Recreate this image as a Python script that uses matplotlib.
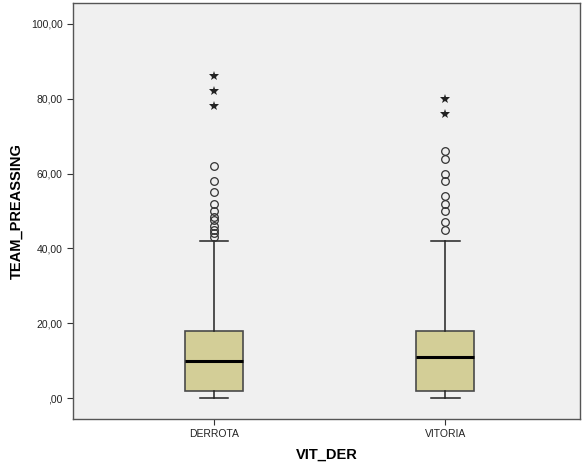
import matplotlib
matplotlib.use("Agg")
import matplotlib.pyplot as plt

plt.rcParams['font.family'] = ['Liberation Sans', 'DejaVu Sans']

categories = ["DERROTA", "VITORIA"]
q1 = [2, 2]
median = [10, 11]
q3 = [18, 18]
whisker_low = [0, 0]
whisker_high = [42, 42]
outliers_circle = [
    [62, 58, 55, 52, 50, 48.5, 47.5, 46, 45, 44, 43],
    [66, 64, 60, 58, 54, 52, 50, 47, 45],
]
outliers_star = [
    [86, 82, 78],
    [80, 76],
]
yticks = [0, 20, 40, 60, 80, 100]
ytick_labels = [",00", "20,00", "40,00", "60,00", "80,00", "100,00"]

fig = plt.figure(figsize=(5.82, 4.70), dpi=100)
ax = fig.add_axes([73/582, 51/470, 507/582, 416/470])
ax.set_facecolor('#f0f0f0')

positions = [1, 2]
stats = []
for i, c in enumerate(categories):
    stats.append(dict(label=c, q1=q1[i], med=median[i], q3=q3[i],
                      whislo=whisker_low[i], whishi=whisker_high[i],
                      fliers=outliers_circle[i]))

ax.bxp(stats, positions=positions, widths=0.25, patch_artist=True,
       boxprops=dict(facecolor='#d3ce97', edgecolor='#4a4a4a', linewidth=1.2),
       medianprops=dict(color='black', linewidth=2.2),
       whiskerprops=dict(color='#222222', linewidth=1.1),
       capprops=dict(color='#222222', linewidth=1.1),
       capwidths=0.125,
       flierprops=dict(marker='o', markerfacecolor='none', markeredgecolor='#333333',
                       markersize=5.5, markeredgewidth=0.9, linestyle='none'))

for i, p in enumerate(positions):
    ax.plot([p]*len(outliers_star[i]), outliers_star[i], linestyle='none',
            marker='*', color='#222222', markersize=7, markeredgewidth=0)

ax.set_xlim(0.39, 2.583)
ax.set_ylim(-5.6, 105.6)
ax.set_yticks(yticks)
ax.set_yticklabels(ytick_labels)
ax.set_xticks(positions)
ax.set_xticklabels(categories)
ax.tick_params(axis='both', labelsize=7.5, colors='#333333', length=4, width=0.8)
ax.tick_params(axis='both', labelcolor='#222222')
for s in ax.spines.values():
    s.set_color('#555555')
    s.set_linewidth(1.0)

ax.set_xlabel("VIT_DER", fontsize=10.5, fontweight='bold', labelpad=6)
ax.set_ylabel("TEAM_PREASSING", fontsize=10.5, fontweight='bold', labelpad=5)

fig.savefig("out.png", dpi=100, facecolor='white')
